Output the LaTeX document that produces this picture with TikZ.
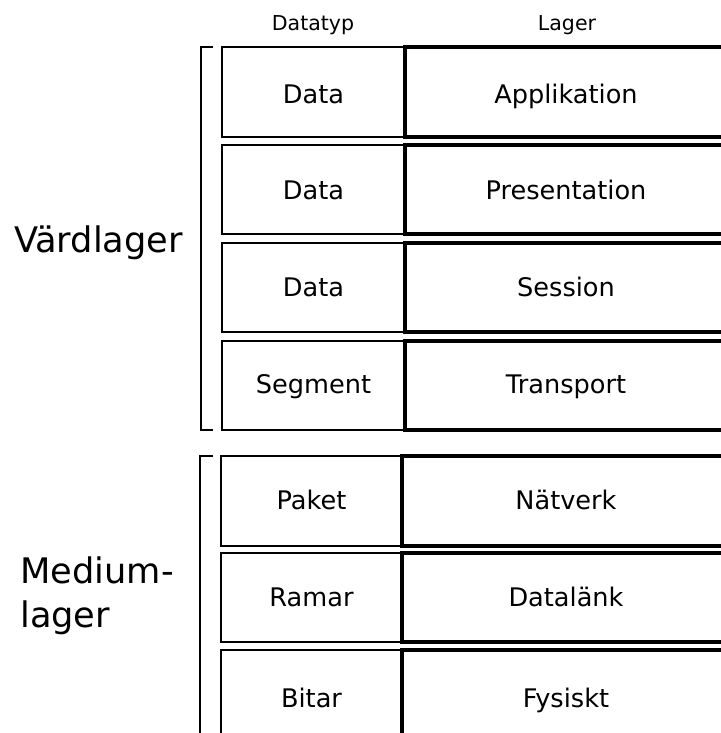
\documentclass[tikz,border=0pt]{standalone}
\usepackage{fontspec}
\setmainfont{DejaVu Sans}
\begin{document}
\begin{tikzpicture}[x=0.75pt,y=-0.75pt,
  typebox/.style={draw, line width=1.9pt, rectangle, inner sep=0pt},
  layerbox/.style={draw, line width=2.5pt, rectangle, inner sep=0pt},
  celltext/.style={font=\fontsize{19.2}{22}\selectfont, anchor=base, inner sep=0pt},
  headtext/.style={font=\fontsize{15.4}{18}\selectfont, anchor=base, inner sep=0pt},
  grouptext/.style={font=\fontsize{26.4}{31}\selectfont, inner sep=0pt},
  bracket/.style={draw, line width=1.7pt}]
\useasboundingbox (0,0) rectangle (721,733);
\clip (0,0) rectangle (721,733);

% column headers
\node[headtext] (hdr-type) at (313,30) {Datatyp};
\node[headtext] (hdr-layer) at (567,30) {Lager};

% the seven layers: name/top/bottom/left/divider/data unit/layer/baseline
\foreach \n/\t/\b/\l/\m/\ty/\la/\base in {
  a/47/137/222/405/Data/Applikation/103,
  p/145/234/222/405/Data/Presentation/199,
  s/243/332/222/405/Data/Session/296,
  t/341/430/222/405/Segment/Transport/393,
  n/456/546/221/402/Paket/Nätverk/509,
  d/553/642/221/402/Ramar/Datalänk/606,
  f/650/740/221/402/Bitar/Fysiskt/707}
{
  \node[typebox, minimum width={(\m-\l)*0.75pt}, minimum height={(\b-\t)*0.75pt}]
    (type-\n) at ({(\l+\m)/2},{(\t+\b)/2}) {};
  \node[layerbox, minimum width={(760-\m)*0.75pt}, minimum height={(\b-\t)*0.75pt}]
    (layer-\n) at ({(\m+760)/2},{(\t+\b)/2}) {};
  \node[celltext] (typetext-\n) at ({(\l+\m)/2},\base) {\ty};
  \node[celltext] (layertext-\n) at (566,\base) {\la};
}

% group brackets
\coordinate (host-top) at (213,47);
\coordinate (host-bend) at (201,430);
\coordinate (host-end) at (213,430);
\draw[bracket] (host-top) -| (host-bend) -- (host-end);
\coordinate (media-top) at (213,456);
\coordinate (media-end) at (200,750);
\draw[bracket] (media-top) -| (media-end);

% group labels
\node[grouptext, anchor=base] (host-label) at (98.5,252) {Värdlager};
\node[grouptext, anchor=base west] (media-label1) at (20,583) {Medium-};
\node[grouptext, anchor=base west] (media-label2) at (20,627) {lager};
\end{tikzpicture}
\end{document}
